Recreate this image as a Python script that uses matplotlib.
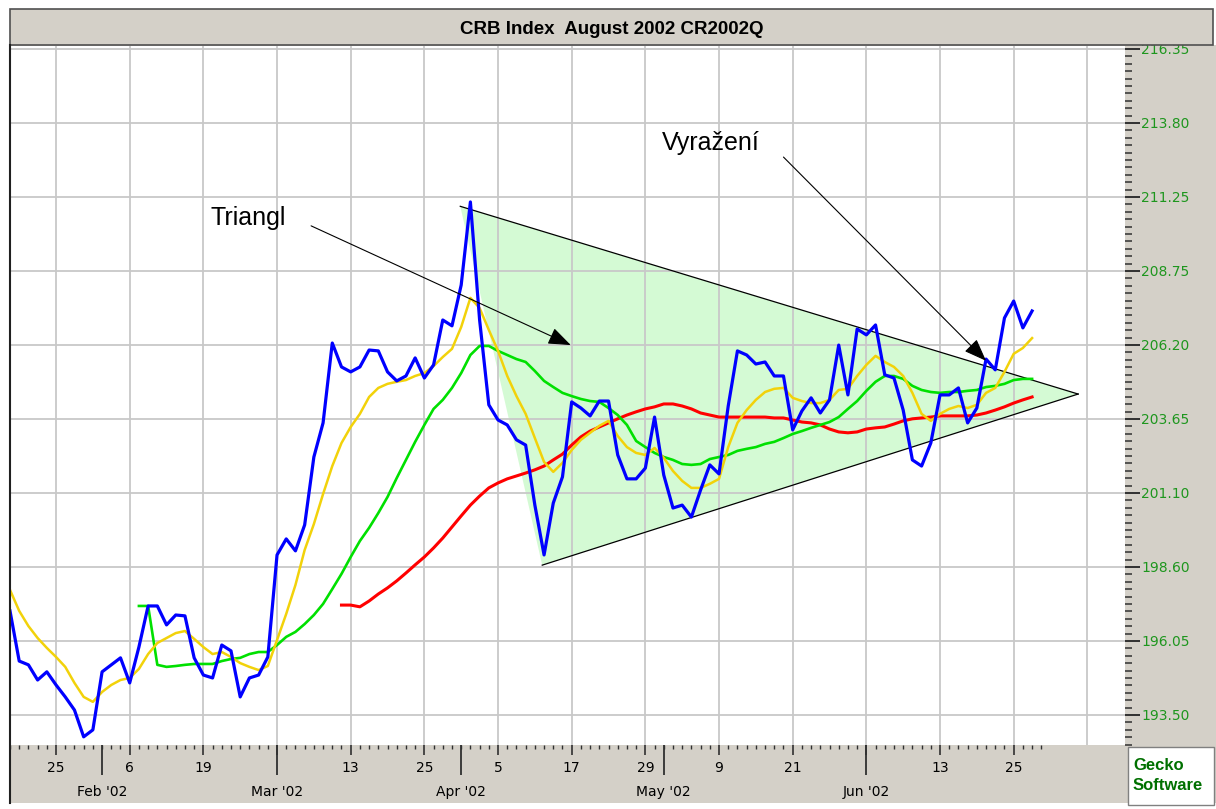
import numpy as np
import pandas as pd
import matplotlib
matplotlib.use('Agg')
import matplotlib.pyplot as plt
from matplotlib.patches import Rectangle, Polygon
from matplotlib.lines import Line2D
from matplotlib.ticker import FixedLocator

# trading days on the chart (exchange holidays removed)
dates = pd.bdate_range('2002-01-17', '2002-06-28')
dates = dates.drop(pd.to_datetime(['2002-01-21', '2002-02-18', '2002-03-29', '2002-05-27']))
pos = np.arange(len(dates)) - 1   # 2002-01-18 sits at 0

# daily close, from 2002-01-17
close = [197.07, 195.35, 195.22, 194.70, 194.98, 194.53, 194.12, 193.67, 192.75, 192.99,
         194.98, 195.22, 195.46, 194.60, 195.83, 197.24, 197.24, 196.59, 196.93, 196.90,
         195.46, 194.87, 194.77, 195.90, 195.70, 194.12, 194.77, 194.87, 195.49, 198.99,
         199.54, 199.13, 200.02, 202.35, 203.52, 206.26, 205.44, 205.27, 205.44, 206.02,
         205.99, 205.27, 204.96, 205.13, 205.75, 205.06, 205.51, 207.05, 206.85, 208.25,
         211.10, 207.05, 204.14, 203.62, 203.45, 202.94, 202.76, 200.70, 198.99, 200.77,
         201.67, 204.24, 204.03, 203.76, 204.27, 204.27, 202.42, 201.60, 201.60, 201.97,
         203.72, 201.73, 200.60, 200.70, 200.29, 201.22, 202.08, 201.77, 204.10, 205.99,
         205.85, 205.54, 205.61, 205.13, 205.13, 203.28, 203.93, 204.38, 203.86, 204.31,
         206.19, 204.48, 206.74, 206.54, 206.88, 205.17, 205.06, 203.96, 202.25, 202.04,
         202.83, 204.48, 204.48, 204.72, 203.52, 204.03, 205.71, 205.34, 207.12, 207.70,
         206.78, 207.36]

# fast average (yellow), from 2002-01-17
ma_fast = [197.79, 197.07, 196.55, 196.14, 195.80, 195.49, 195.15, 194.60, 194.12, 193.95,
           194.29, 194.53, 194.70, 194.77, 195.08, 195.59, 195.97, 196.14, 196.31, 196.38,
           196.11, 195.83, 195.59, 195.66, 195.49, 195.28, 195.15, 195.04, 195.18, 196.07,
           196.97, 197.96, 199.16, 200.05, 201.08, 202.04, 202.83, 203.38, 203.83, 204.41,
           204.72, 204.86, 204.93, 204.99, 205.13, 205.23, 205.47, 205.78, 206.06, 206.81,
           207.81, 207.46, 206.71, 205.99, 205.13, 204.44, 203.83, 203.00, 202.18, 201.84,
           202.15, 202.59, 202.94, 203.18, 203.42, 203.59, 203.07, 202.69, 202.49, 202.42,
           202.66, 202.32, 201.87, 201.53, 201.29, 201.29, 201.43, 201.60, 202.69, 203.52,
           203.96, 204.31, 204.58, 204.69, 204.72, 204.38, 204.27, 204.20, 204.20, 204.31,
           204.65, 204.69, 205.13, 205.51, 205.82, 205.61, 205.44, 205.13, 204.55, 203.83,
           203.59, 203.83, 204.00, 204.10, 204.03, 204.14, 204.55, 204.72, 205.27, 205.89,
           206.09, 206.43]

# medium average (green), from 2002-02-07
ma_mid = [197.24, 197.24, 195.22, 195.15, 195.18, 195.22, 195.25, 195.25, 195.25, 195.35,
          195.42, 195.46, 195.59, 195.66, 195.66, 195.90, 196.18, 196.35, 196.62, 196.93,
          197.31, 197.82, 198.34, 198.92, 199.47, 199.92, 200.43, 200.98, 201.63, 202.25,
          202.87, 203.45, 204.00, 204.31, 204.72, 205.23, 205.85, 206.16, 206.16, 205.99,
          205.85, 205.71, 205.61, 205.30, 204.96, 204.75, 204.55, 204.44, 204.34, 204.27,
          204.24, 204.03, 203.79, 203.45, 202.90, 202.69, 202.49, 202.35, 202.25, 202.11,
          202.08, 202.11, 202.28, 202.35, 202.42, 202.56, 202.63, 202.69, 202.80, 202.87,
          203.00, 203.14, 203.24, 203.35, 203.45, 203.55, 203.72, 204.00, 204.27, 204.62,
          204.93, 205.13, 205.13, 205.03, 204.79, 204.65, 204.58, 204.55, 204.58, 204.58,
          204.62, 204.65, 204.75, 204.79, 204.86, 204.99, 205.03, 205.03]

# slow average (red), from 2002-03-12
ma_slow = [197.27, 197.27, 197.21, 197.41, 197.65, 197.86, 198.10, 198.37, 198.65, 198.92,
           199.23, 199.57, 199.95, 200.33, 200.70, 201.01, 201.29, 201.46, 201.60, 201.70,
           201.80, 201.91, 202.04, 202.25, 202.45, 202.76, 203.04, 203.24, 203.38, 203.52,
           203.66, 203.79, 203.90, 204.00, 204.07, 204.17, 204.17, 204.10, 204.00, 203.86,
           203.79, 203.72, 203.72, 203.72, 203.72, 203.72, 203.72, 203.69, 203.69, 203.62,
           203.55, 203.52, 203.45, 203.31, 203.21, 203.18, 203.21, 203.31, 203.35, 203.38,
           203.48, 203.59, 203.66, 203.69, 203.72, 203.76, 203.76, 203.76, 203.76, 203.79,
           203.86, 203.96, 204.07, 204.20, 204.31, 204.41]

# right axis labels as printed
ytick_labels = ['193.50', '196.05', '198.60', '201.10', '203.65',
                '206.20', '208.75', '211.25', '213.80', '216.35']

# triangle drawn on the chart (trading-day index, price)
tri_x = [47.9, 56.8, 115.0]
tri_y = [210.95, 198.64, 204.51]

# annotations: text, text position, arrow tail, arrow head
notes = [('Triangl', (20.8, 210.55), (31.7, 210.28), (59.9, 206.19)),
         ('Vyražení', (69.8, 213.12), (83.0, 212.64), (105.0, 205.65))]


def start_at(day, n):
    return pos[dates.get_loc(pd.Timestamp(day))] + np.arange(n)


W, H = 1216, 809
fig = plt.figure(figsize=(W / 100, H / 100), dpi=100)


def fx(px):
    return px / W


def fy(py):
    return 1 - py / H


# window chrome
fig.add_artist(Rectangle((fx(10), fy(803)), fx(1216) - fx(10), fy(45) - fy(803),
                         transform=fig.transFigure, facecolor='#d4d0c8', edgecolor='none', zorder=-1))
fig.add_artist(Rectangle((fx(10), fy(45)), fx(1213) - fx(10), fy(9) - fy(45),
                         transform=fig.transFigure, facecolor='#d4d0c8', edgecolor='#505050',
                         lw=1.2, zorder=5))
fig.text(fx(612), fy(29), 'CRB Index  August 2002 CR2002Q', ha='center', va='center',
         fontsize=13.5, fontweight='bold', family='Liberation Sans', zorder=6)
fig.add_artist(Line2D([fx(10), fx(10)], [fy(45), fy(803)], transform=fig.transFigure,
                      color='#202020', lw=1.5, zorder=5))
fig.add_artist(Rectangle((fx(1128), fy(805)), fx(1214) - fx(1128), fy(747) - fy(805),
                         transform=fig.transFigure, facecolor='white', edgecolor='#808080',
                         lw=1, zorder=5))
fig.text(fx(1133), fy(765), 'Gecko', fontsize=12, fontweight='bold', color='#007000',
         family='Liberation Sans', va='center', zorder=6)
fig.text(fx(1133), fy(785), 'Software', fontsize=12, fontweight='bold', color='#007000',
         family='Liberation Sans', va='center', zorder=6)

ax = fig.add_axes([fx(10), fy(745), fx(1125) - fx(10), fy(46) - fy(745)])
ax.set_facecolor('white')
for s in ax.spines.values():
    s.set_visible(False)

ax.add_patch(Polygon(list(zip(tri_x, tri_y)), closed=True, facecolor='#d4fad4',
                     edgecolor='none', zorder=0.2))
ax.plot([tri_x[0], tri_x[2]], [tri_y[0], tri_y[2]], color='black', lw=0.9, zorder=2)
ax.plot([tri_x[1], tri_x[2]], [tri_y[1], tri_y[2]], color='black', lw=0.9, zorder=2)

ax.plot(start_at('2002-03-12', len(ma_slow)), ma_slow, color='#ff0000', lw=2.2, zorder=3)
ax.plot(start_at('2002-02-07', len(ma_mid)), ma_mid, color='#00e000', lw=1.9, zorder=3.1)
ax.plot(start_at('2002-01-17', len(ma_fast)), ma_fast, color='#f2d20a', lw=1.8, zorder=3.2)
ax.plot(start_at('2002-01-17', len(close)), close, color='#0000ff', lw=2.3, zorder=3.3)

for txt, tpos, tail, head in notes:
    ax.text(tpos[0], tpos[1], txt, fontsize=18, family='Liberation Sans',
            ha='left', va='center', zorder=5)
    ax.annotate('', xy=head, xytext=tail, zorder=5,
                arrowprops=dict(arrowstyle='-|>,head_length=1.0,head_width=0.38',
                                mutation_scale=14, color='black', lw=0.8,
                                shrinkA=0, shrinkB=0))

ax.set_xlim(-0.54, 120.09)
ax.set_ylim(192.47, 216.45)

# right price axis
yticks = np.linspace(193.50, 216.35, len(ytick_labels))
ystep = (yticks[1] - yticks[0]) / 10
ax.yaxis.tick_right()
ax.set_yticks(yticks, labels=ytick_labels)
ax.yaxis.set_minor_locator(FixedLocator(193.50 + ystep * np.arange(-4, 92)))
ax.tick_params(axis='y', which='major', length=10.8, width=1.4, color='#303030',
               labelcolor='#1e961e', labelsize=10, pad=1)
ax.tick_params(axis='y', which='minor', length=5, width=1.1, color='#303030')

# date axis: a grid line every 8 trading days, day labels, month labels below
grid_pos = np.arange(4, 112, 8)
first_of_month = [i for i in range(1, len(dates)) if dates[i].month != dates[i - 1].month]
month_starts = set(pos[first_of_month])
day_labels = ['' if p in month_starts else str(dates[p + 1].day) for p in grid_pos]
ax.set_xticks(grid_pos, labels=day_labels)
ax.set_xticks(pos, minor=True)
ax.tick_params(axis='x', which='major', length=7.2, width=1.2, color='#303030',
               labelsize=10, pad=4.5)
ax.tick_params(axis='x', which='minor', length=3, width=1, color='#303030')

ax.grid(True, which='major', color='#c8c8c8', lw=1.3)
ax.set_axisbelow(True)
ax.axvline(116, color='#c8c8c8', lw=1.3, zorder=0.5)

sec = ax.secondary_xaxis('bottom')
sec.set_xticks(pos[first_of_month],
               labels=[dates[i].strftime("%b '%y") for i in first_of_month])
sec.tick_params(length=21.6, width=1.3, color='#303030', labelsize=10, pad=7)
sec.spines['bottom'].set_visible(False)

fig.savefig('out.png', dpi=100)
